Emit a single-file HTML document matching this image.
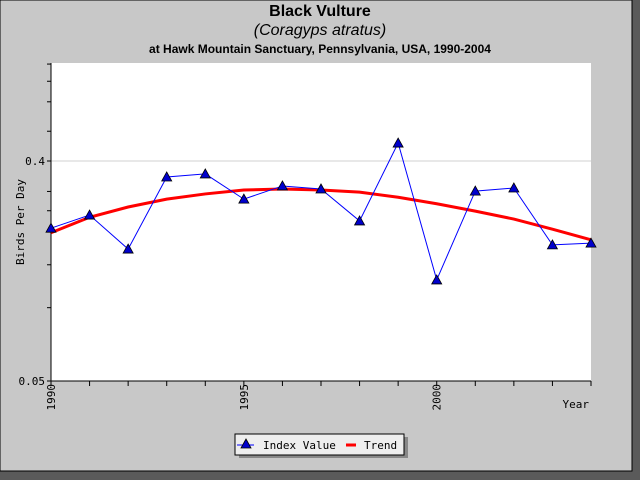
<!DOCTYPE html>
<html><head><meta charset="utf-8"><style>
body{margin:0;width:640px;height:480px;overflow:hidden;background:#5a5a5a}
svg{display:block}
</style></head><body>
<svg id="chart" width="640" height="480" xmlns="http://www.w3.org/2000/svg">
<rect x="0" y="0" width="640" height="480" fill="#5a5a5a"/>
<rect x="0" y="0" width="632" height="471" fill="#c8c8c8" stroke="#000" stroke-width="1"/>
<text x="320" y="16" text-anchor="middle" font-family="Liberation Sans, sans-serif" font-weight="bold" font-size="16">Black Vulture</text>
<text x="320" y="35" text-anchor="middle" font-family="Liberation Sans, sans-serif" font-style="italic" font-size="16">(Coragyps atratus)</text>
<text x="320" y="53" text-anchor="middle" font-family="Liberation Sans, sans-serif" font-weight="bold" font-size="12">at Hawk Mountain Sanctuary, Pennsylvania, USA, 1990-2004</text>
<rect x="51" y="63" width="540" height="318" fill="#fff"/>
<g id="axes"></g>
<g id="series"></g>
<text x="24" y="222" transform="rotate(-90 24 222)" text-anchor="middle" font-family="DejaVu Sans Mono, monospace" font-size="11">Birds Per Day</text>
<text x="589" y="408" text-anchor="end" font-family="DejaVu Sans Mono, monospace" font-size="11">Year</text>
<g>
<rect x="239" y="437" width="169" height="21" fill="#888"/>
<rect x="235" y="434" width="169" height="21" fill="#eee" stroke="#000"/>
<line x1="237" y1="445" x2="254" y2="445" stroke="#00f"/>
<polygon points="246,439 241,448 251,448" fill="#00c" stroke="#000" stroke-width="0.8"/>
<text x="263" y="449" font-family="DejaVu Sans Mono, monospace" font-size="11">Index Value</text>
<line x1="346" y1="445" x2="356" y2="445" stroke="#f00" stroke-width="3"/>
<text x="364" y="449" font-family="DejaVu Sans Mono, monospace" font-size="11">Trend</text>
</g>
</svg>
<script>
const years=[1990,1991,1992,1993,1994,1995,1996,1997,1998,1999,2000,2001,2002,2003,2004];
const indexValues=[0.212,0.240,0.174,0.344,0.354,0.279,0.316,0.307,0.227,0.474,0.130,0.301,0.310,0.181,0.184];
const trendValues=[0.203,0.235,0.259,0.279,0.293,0.304,0.307,0.304,0.298,0.284,0.267,0.249,0.231,0.210,0.190];
const yTickValues=[0.05,0.1,0.15,0.25,0.3,0.4,0.53,0.7,0.85,1.0];
const yLabels=[[0.05,"0.05"],[0.4,"0.4"]];
const xLabels=[1990,1995,2000];
const NS="http://www.w3.org/2000/svg";
const X=y=>51+(y-1990)*540/14;
const Y=v=>381-Math.log10(v/0.05)*243.6;
const ax=document.getElementById('axes'),sr=document.getElementById('series');
function mk(p,tag,a){const e=document.createElementNS(NS,tag);for(const k in a)e.setAttribute(k,a[k]);p.appendChild(e);return e;}
const grid=mk(ax,'line',{x1:51,x2:591,y1:Y(0.4),y2:Y(0.4),stroke:'#d0d0d0'});


const ya=mk(ax,'line',{x1:51,x2:51,y1:63,y2:381,stroke:'#000'});


const xa=mk(ax,'line',{x1:51,x2:591,y1:381,y2:381,stroke:'#000'});


yTickValues.forEach(v=>{const y=Y(v);if(y<62)return;const t=mk(ax,'line',{x1:47,x2:51,y1:y,y2:y,stroke:'#000'});

});
yLabels.forEach(([v,s])=>{const t=mk(ax,'text',{x:45,y:Y(v)+4,'text-anchor':'end','font-family':'DejaVu Sans Mono, monospace','font-size':11});t.textContent=s;

});
years.forEach(yr=>{const t=mk(ax,'line',{x1:X(yr),x2:X(yr),y1:381,y2:386,stroke:'#000'});

});
xLabels.forEach(yr=>{const x=X(yr)+4;const t=mk(ax,'text',{x:x,y:384,transform:`rotate(-90 ${x} 384)`,'text-anchor':'end','font-family':'DejaVu Sans Mono, monospace','font-size':11});t.textContent=yr;

});
const tl=mk(sr,'polyline',{points:years.map((y,i)=>X(y)+','+Y(trendValues[i])).join(' '),fill:'none',stroke:'#f00','stroke-width':3});


const il=mk(sr,'polyline',{points:years.map((y,i)=>X(y)+','+Y(indexValues[i])).join(' '),fill:'none',stroke:'#00f','stroke-width':1});


years.forEach((yr,i)=>{const x=X(yr),y=Y(indexValues[i]);const p=mk(sr,'polygon',{points:`${x},${y-5} ${x-5},${y+4} ${x+5},${y+4}`,fill:'#00c',stroke:'#000','stroke-width':0.8});

});
</script>
</body></html>
